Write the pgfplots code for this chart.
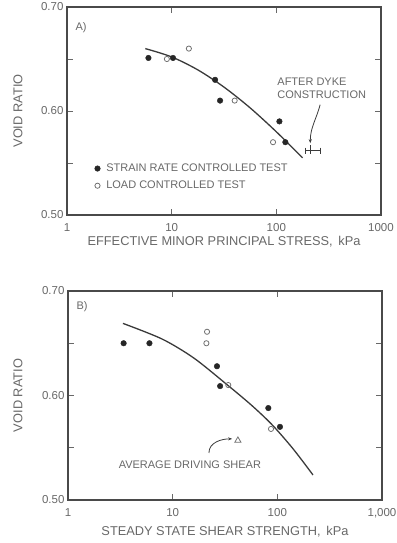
\documentclass[border=0pt]{standalone}
\usepackage{fontspec}
\setmainfont{Liberation Sans}
\usepackage{pgfplots}
\pgfplotsset{compat=1.18}
\usetikzlibrary{arrows.meta}
\definecolor{txt}{HTML}{686868}
\definecolor{frm}{HTML}{4A4A4A}
\definecolor{crv}{HTML}{3A3A3A}
\definecolor{opn}{HTML}{707070}
\begin{document}
\begin{tikzpicture}
\path[use as bounding box] (0pt,0pt) rectangle (396pt,543pt);
% ---------- A ----------
\begin{axis}[scale only axis, width=314pt, height=208pt, at={(67pt,328pt)}, anchor=south west,
    xmode=log, xmin=1, xmax=1000, ymin=0.5, ymax=0.7,
    xminorticks=false, yminorticks=false,
    xtick={1,10,100,1000},
    ytick={0.5,0.55,0.6,0.65,0.7},
    yticklabels={0.50,,0.60,,0.70},
    xticklabels={1,10,100,1000},
    tick align=inside, major tick length=6pt,
    tick style={txt, line width=0.8pt},
    axis line style={frm, line width=1.5pt},
    ticklabel style={font=\fontsize{11.5}{13}\selectfont, text=txt},
    xticklabel style={yshift=-5pt},
    xlabel style={at={(axis description cs:0.5,0)}, anchor=center, yshift=-27pt},
    ylabel style={at={(axis description cs:0,0.5)}, anchor=center, yshift=49pt},
    label style={font=\fontsize{12.8}{14}\selectfont, text=txt},
    clip=false,
  xlabel={EFFECTIVE MINOR PRINCIPAL STRESS,\, kPa},
  ylabel={VOID RATIO},
  legend style={at={(axis description cs:0.0876,0.256)}, anchor=north west, draw=none, fill=none,
    font=\fontsize{11}{13}\selectfont, text=txt, row sep=4pt, inner sep=0pt},
  legend cell align=left,
]
\addplot[only marks, mark=*, mark size=2.8pt, mark options={fill=black!85, draw=black!85}] coordinates {(6,0.651) (10.3,0.651) (26,0.630) (29,0.610) (107,0.590) (122,0.570)};
\addlegendentry{\hspace{4pt}STRAIN RATE CONTROLLED TEST}
\addplot[only marks, mark=o, mark size=2.6pt, mark options={draw=opn, line width=0.8pt}] coordinates {(9,0.650) (14.6,0.660) (40,0.610) (93,0.570)};
\addlegendentry{\hspace{4pt}LOAD CONTROLLED TEST}
\addplot[crv, line width=1.3pt, smooth, no marks, forget plot] coordinates {
  (5.6,0.660) (10,0.652) (17.8,0.6395) (31.6,0.623) (56.2,0.603) (100,0.580) (178,0.555)};
\addplot[crv, line width=1pt, forget plot] coordinates {(190,0.562) (263,0.562)};
\addplot[crv, only marks, mark=|, mark size=3pt, mark options={line width=1pt}, forget plot] coordinates {(190,0.562) (263,0.562)};
\addplot[crv, only marks, mark=|, mark size=4.5pt, mark options={line width=1.2pt}, forget plot] coordinates {(211,0.563)};
\draw[crv, line width=0.8pt, -{Stealth[length=4pt,width=3pt]}] (axis cs:262,0.606) to[out=-105,in=90] (axis cs:211,0.569);
\node[anchor=west, inner xsep=0pt, align=left, font=\fontsize{11}{13}\selectfont, text=txt] at (axis cs:102,0.6216) {AFTER DYKE\\CONSTRUCTION};
\node[anchor=center, font=\fontsize{11}{13}\selectfont, text=txt] at (axis description cs:0.045,0.90) {A)};
\end{axis}
% ---------- B ----------
\begin{axis}[scale only axis, width=314pt, height=209pt, at={(68pt,43pt)}, anchor=south west,
    xmode=log, xmin=1, xmax=1000, ymin=0.5, ymax=0.7,
    xminorticks=false, yminorticks=false,
    xtick={1,10,100,1000},
    ytick={0.5,0.55,0.6,0.65,0.7},
    yticklabels={0.50,,0.60,,0.70},
    xticklabels={1,10,100,{1,000}},
    tick align=inside, major tick length=6pt,
    tick style={txt, line width=0.8pt},
    axis line style={frm, line width=1.5pt},
    ticklabel style={font=\fontsize{11.5}{13}\selectfont, text=txt},
    xticklabel style={yshift=-5pt},
    xlabel style={at={(axis description cs:0.5,0)}, anchor=center, yshift=-32pt},
    ylabel style={at={(axis description cs:0,0.5)}, anchor=center, yshift=50pt},
    label style={font=\fontsize{12.8}{14}\selectfont, text=txt},
    clip=false,
  xlabel={STEADY STATE SHEAR STRENGTH,\, kPa},
  ylabel={VOID RATIO},
]
\addplot[only marks, mark=*, mark size=2.8pt, mark options={fill=black!85, draw=black!85}] coordinates {(3.4,0.650) (6,0.650) (26.5,0.628) (28.4,0.609) (82,0.588) (106,0.570)};
\addplot[only marks, mark=o, mark size=2.6pt, mark options={draw=opn, line width=0.8pt}] coordinates {(21.3,0.661) (21,0.650) (34,0.610) (87,0.568)};
\addplot[only marks, mark=triangle, mark size=3.5pt, mark options={draw=opn, line width=0.8pt}] coordinates {(42,0.557)};
\addplot[crv, line width=1.3pt, smooth, no marks] coordinates {
  (3.35,0.669) (7.94,0.654) (15.85,0.636) (31.6,0.612) (56.2,0.591) (89.1,0.572) (141.3,0.549) (219,0.524)};
\draw[crv, line width=0.8pt, -{Stealth[length=4pt,width=3pt]}] (axis cs:22.2,0.545) to[out=90,in=180] (axis cs:37,0.5585);
\node[anchor=center, font=\fontsize{11}{13}\selectfont, text=txt] at (axis cs:14.6,0.534) {AVERAGE DRIVING SHEAR};
\node[anchor=center, font=\fontsize{11}{13}\selectfont, text=txt] at (axis description cs:0.045,0.925) {B)};
\end{axis}
\end{tikzpicture}
\end{document}
